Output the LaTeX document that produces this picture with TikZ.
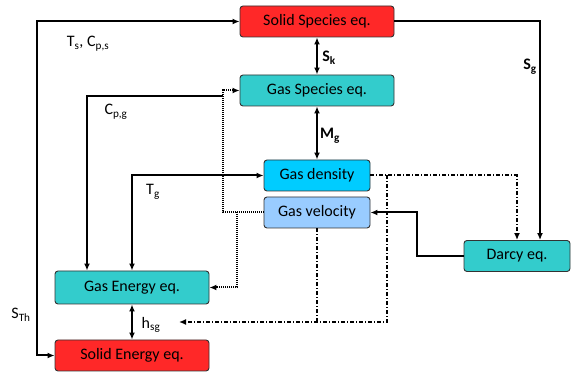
\documentclass[tikz,border=0pt]{standalone}
\usepackage{fontspec}
\setmainfont{Carlito}
\usepackage{xcolor}
\usetikzlibrary{arrows.meta}
\usetikzlibrary{positioning}

\definecolor{solidred}{RGB}{255,40,40}
\definecolor{gasteal}{RGB}{51,204,204}
\definecolor{gascyan}{RGB}{0,204,255}
\definecolor{gasblue}{RGB}{153,204,255}

\begin{document}
\begin{tikzpicture}[
  x=1pt, y=-1pt,
  eqbox/.style={draw=black!80, rounded corners=3pt, line width=0.9pt, minimum height=31pt, font=\fontsize{16}{18}\selectfont},
  wide/.style={eqbox, minimum width=154pt},
  small/.style={eqbox, minimum width=106pt},
  lbl/.style={font=\fontsize{16}{18}\selectfont, inner sep=0pt},
  every path/.style={line width=2pt},
  dashdotline/.style={dash pattern=on 4pt off 2pt on 1pt off 2pt},
  dotline/.style={dash pattern=on 1pt off 1pt},
]
\tikzset{>={Latex[length=7pt, width=6pt]}}
\useasboundingbox (0,0) rectangle (571,374);

% Nodes - top column
\node[wide, fill=solidred] (ss) at (317,21.5) {Solid Species eq.};
\node[wide, fill=gasteal]  (gs) at (317,90.5) {Gas Species eq.};
\node[small, fill=gascyan] (gd) at (317,175.5) {Gas density};
\node[small, fill=gasblue] (gv) at (317,212.5) {Gas velocity};

% Nodes - bottom and right
\node[small, fill=gasteal]  (darcy) at (517,256) {Darcy eq.};
\node[wide, fill=gasteal, minimum height=33pt] (ge) at (132,287.5) {Gas Energy eq.};
\node[wide, fill=solidred] (se) at (132,355.5) {Solid Energy eq.};

% Junction points
\coordinate (lft)  at (37,0);
\coordinate (vj)   at (223,212.5);
\coordinate (vb)   at (237,212.5);
\coordinate (cpg)  at (223,96);
\coordinate (dj)   at (387,175.5);
\coordinate (hend) at (179,322);

% Solid lines
\draw[<->] (se.west) -- (se.west -| lft) |- (ss.west);
\draw[->] (ss.east) -| ([xshift=23pt]darcy.north);
\draw[<->] (ss.south) -- (gs.north);
\draw[<->] (gs.south) -- (gd.north);
\draw[->] (cpg) -| ([xshift=-45pt]ge.north);
\draw[<->] (gd.west) -| (ge.north);
\draw[<->] (ge.south) -- (se.north);
\draw[->] (darcy.west) -- ++(-47,0) |- (gv.east);

% Dotted lines
\draw[dotline, ->] (gv.west) -- (vj) |- (gs.west);
\draw[dotline, ->] (vb) |- (ge.east);

% Dash-dot lines
\draw[dashdotline, ->] (gd.east) -| (darcy.north);
\draw[dashdotline, ->] (dj) |- (hend);
\draw[dashdotline] (gv.south) -- (gv.south |- hend);

% Labels
\node[lbl] (lts)  at (88,44)   {T\textsubscript{s}, C\textsubscript{p,s}};
\node[lbl] (lcpg) at (116,112) {C\textsubscript{p,g}};
\node[lbl] (ltg)  at (153,192) {T\textsubscript{g}};
\node[lbl] (lsk)  at (329,58)  {\bfseries S\textsubscript{k}};
\node[lbl] (lmg)  at (330,136) {\bfseries M\textsubscript{g}};
\node[lbl] (lsg)  at (530,67)  {\bfseries S\textsubscript{g}};
\node[lbl] (lsth) at (21,315)  {S\textsubscript{Th}};
\node[lbl] (lhsg) at (151,325) {h\textsubscript{sg}};

\end{tikzpicture}
\end{document}
